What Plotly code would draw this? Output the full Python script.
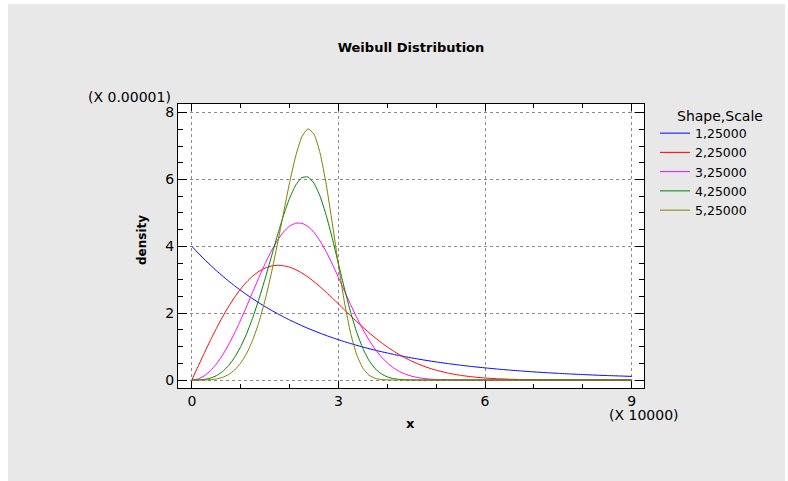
import plotly.graph_objects as go

# x in units of 10000, density in units of 0.00001
x_vals = [0, 0.125, 0.25, 0.375, 0.5, 0.625, 0.75, 0.875, 1.0, 1.125, 1.25, 1.375,
          1.5, 1.625, 1.75, 1.875, 2.0, 2.125, 2.25, 2.375, 2.5, 2.625, 2.75, 2.875,
          3.0, 3.125, 3.25, 3.375, 3.5, 3.625, 3.75, 3.875, 4.0, 4.125, 4.25, 4.375,
          4.5, 4.625, 4.75, 4.875, 5.0, 5.25, 5.5, 5.75, 6.0, 6.25, 6.5, 6.75, 7.0,
          7.25, 7.5, 7.75, 8.0, 8.25, 8.5, 8.75, 9.0]

series_names = ["1,25000", "2,25000", "3,25000", "4,25000", "5,25000"]

dens_shape1 = [4.000, 3.805, 3.619, 3.443, 3.275, 3.115, 2.963, 2.819, 2.681, 2.551,
               2.426, 2.308, 2.195, 2.088, 1.986, 1.889, 1.797, 1.710, 1.626, 1.547,
               1.472, 1.400, 1.331, 1.267, 1.205, 1.146, 1.090, 1.037, 0.986, 0.938,
               0.893, 0.849, 0.808, 0.768, 0.731, 0.695, 0.661, 0.629, 0.598, 0.569,
               0.541, 0.490, 0.443, 0.401, 0.363, 0.328, 0.297, 0.269, 0.243, 0.220,
               0.199, 0.180, 0.163, 0.147, 0.133, 0.121, 0.109]

dens_shape2 = [0.000, 0.399, 0.792, 1.173, 1.537, 1.879, 2.193, 2.477, 2.727, 2.940,
               3.115, 3.251, 3.349, 3.408, 3.431, 3.419, 3.375, 3.302, 3.203, 3.082,
               2.943, 2.789, 2.624, 2.452, 2.275, 2.096, 1.919, 1.746, 1.578, 1.417,
               1.265, 1.122, 0.989, 0.867, 0.756, 0.655, 0.564, 0.483, 0.411, 0.348,
               0.293, 0.204, 0.139, 0.093, 0.060, 0.039, 0.024, 0.015, 0.009, 0.005,
               0.003, 0.002, 0.001, 0.000, 0.000, 0.000, 0.000]

dens_shape3 = [0.000, 0.030, 0.120, 0.269, 0.476, 0.738, 1.051, 1.408, 1.801, 2.218,
               2.648, 3.074, 3.481, 3.853, 4.172, 4.427, 4.603, 4.691, 4.689, 4.595,
               4.415, 4.157, 3.836, 3.468, 3.069, 2.659, 2.253, 1.868, 1.513, 1.196,
               0.924, 0.696, 0.511, 0.366, 0.255, 0.173, 0.114, 0.073, 0.045, 0.027,
               0.016, 0.005, 0.001, 0.000, 0.000, 0.000, 0.000, 0.000, 0.000, 0.000,
               0.000, 0.000, 0.000, 0.000, 0.000, 0.000, 0.000]

dens_shape4 = [0.000, 0.002, 0.016, 0.054, 0.128, 0.249, 0.428, 0.676, 0.998, 1.399,
               1.879, 2.429, 3.036, 3.676, 4.317, 4.919, 5.439, 5.830, 6.053, 6.076,
               5.886, 5.494, 4.926, 4.234, 3.475, 2.720, 2.021, 1.421, 0.942, 0.587,
               0.342, 0.186, 0.093, 0.043, 0.019, 0.007, 0.003, 0.001, 0.000, 0.000,
               0.000, 0.000, 0.000, 0.000, 0.000, 0.000, 0.000, 0.000, 0.000, 0.000,
               0.000, 0.000, 0.000, 0.000, 0.000, 0.000, 0.000]

dens_shape5 = [0.000, 0.000, 0.002, 0.010, 0.032, 0.078, 0.162, 0.299, 0.507, 0.805,
               1.212, 1.740, 2.398, 3.179, 4.059, 4.991, 5.903, 6.699, 7.271, 7.515,
               7.358, 6.785, 5.850, 4.680, 3.443, 2.309, 1.394, 0.750, 0.355, 0.145,
               0.051, 0.015, 0.004, 0.001, 0.000, 0.000, 0.000, 0.000, 0.000, 0.000,
               0.000, 0.000, 0.000, 0.000, 0.000, 0.000, 0.000, 0.000, 0.000, 0.000,
               0.000, 0.000, 0.000, 0.000, 0.000, 0.000, 0.000]

x_tick_vals = [0, 3, 6, 9]
y_tick_vals = [0, 2, 4, 6, 8]

colors = ["#0000ff", "#ff0000", "#ff00ff", "#008000", "#808000"]
all_series = [dens_shape1, dens_shape2, dens_shape3, dens_shape4, dens_shape5]

FONT = "DejaVu Sans"
W, H = 788, 481
L, R, T, B = 178, 144, 104, 93
PW, PH = W - L - R, H - T - B


def px(xp):
    return (xp - L) / PW


def py(yp):
    return (H - B - yp) / PH


fig = go.Figure()
for name, ys, c in zip(series_names, all_series, colors):
    fig.add_trace(go.Scatter(x=x_vals, y=ys, mode="lines", name=name,
                             line=dict(color=c, width=1, shape="spline", smoothing=0.5)))

fig.update_layout(
    width=W, height=H, autosize=False,
    margin=dict(l=L, r=R, t=T, b=B, pad=0),
    paper_bgcolor="#e8e8e8", plot_bgcolor="white",
    font=dict(family=FONT, size=14, color="black"),
    showlegend=True,
    legend=dict(x=px(655), xanchor="left", y=py(118.5), yanchor="top",
                bgcolor="rgba(0,0,0,0)", borderwidth=0, font=dict(size=12.5),
                tracegroupgap=0),
    title=dict(text="<b>Weibull Distribution</b>", x=0.5, xref="paper", xanchor="center",
               y=1 - 47.5 / H, yref="container", yanchor="middle",
               font=dict(size=13, family=FONT)),
)

GRID_DASH = "3px,3px"
fig.update_xaxes(range=[-0.283, 9.252], tickvals=x_tick_vals, ticktext=[str(v) for v in x_tick_vals],
                 ticks="inside", ticklen=7, tickwidth=1, tickcolor="black",
                 showline=True, linecolor="black", linewidth=1, mirror="ticks",
                 showgrid=True, gridcolor="#8c8c8c", griddash=GRID_DASH, gridwidth=1,
                 zeroline=False, tickfont=dict(size=14),
                 minor=dict(dtick=1, tick0=0, ticks="inside", ticklen=4, tickcolor="black",
                            showgrid=False))
fig.update_yaxes(range=[-0.239, 8.257], tickvals=y_tick_vals, ticktext=[str(v) for v in y_tick_vals],
                 ticks="inside", ticklen=9, tickwidth=1, tickcolor="black",
                 showline=True, linecolor="black", linewidth=1, mirror="ticks",
                 showgrid=True, gridcolor="#8c8c8c", griddash=GRID_DASH, gridwidth=1,
                 zeroline=False, tickfont=dict(size=14),
                 minor=dict(dtick=0.5, tick0=0, ticks="inside", ticklen=5, tickcolor="black",
                            showgrid=False))

annos = [
    dict(text="(X 0.00001)", x=px(173), y=py(96.5), xanchor="right", yanchor="middle",
         font=dict(size=14)),
    dict(text="(X 10000)", x=px(643.5), y=py(414.5), xanchor="center", yanchor="middle",
         font=dict(size=14)),
    dict(text="<b>density</b>", x=px(142), y=py(240), xanchor="center", yanchor="middle",
         textangle=-90, font=dict(size=12)),
    dict(text="<b>x</b>", x=px(410), y=py(423), xanchor="center", yanchor="middle",
         font=dict(size=13)),
    dict(text="Shape,Scale", x=px(720), y=py(116), xanchor="center", yanchor="middle",
         font=dict(size=14)),
]
for a in annos:
    fig.add_annotation(xref="paper", yref="paper", showarrow=False, **a)

# white outer frame around the grey panel
frame = [
    (0, 0, 8, H),
    (0, 0, W, 4),
    (785, 0, W, H),
]
for (x0, y0, x1, y1) in frame:
    fig.add_shape(type="rect", xref="paper", yref="paper",
                  x0=px(x0), x1=px(x1), y0=py(y1), y1=py(y0),
                  fillcolor="white", line=dict(width=0), layer="above")

fig.write_html("out.html", config={"displayModeBar": False})
